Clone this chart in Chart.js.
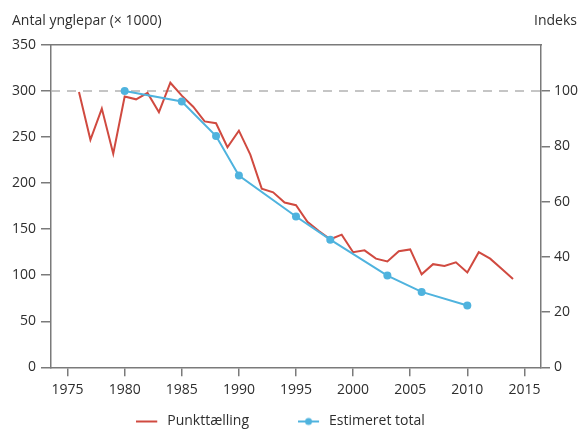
<!DOCTYPE html>
<html><head><meta charset="utf-8">
<script src="https://cdn.jsdelivr.net/npm/chart.js@4/dist/chart.umd.min.js"></script>
<style>html,body{margin:0;padding:0;background:#fff}#wrap{width:581px;height:429px;position:relative}</style>
</head><body><div id="wrap"><canvas id="c" width="581" height="429"></canvas></div>
<script>
// ---- data ----
const countYears = [1976,1977,1978,1979,1980,1981,1982,1983,1984,1985,1986,1987,1988,1989,1990,1991,1992,1993,1994,1995,1996,1997,1998,1999,2000,2001,2002,2003,2004,2005,2006,2007,2008,2009,2010,2011,2012,2013,2014];
const countValues = [299,247,281,232,294,291,298,277,309,295,283,267,265,239,257,231,194,190,179,176,158,148,139,144,125,127,118,115,126,128,101,112,110,114,103,125,118,107,96];
const estimateYears = [1980,1985,1988,1990,1995,1998,2003,2006,2010];
const estimateIndex = [100,96.2,83.7,69.4,54.6,46.2,33.2,27.3,22.4];
const referenceLevel = 300;   // = index 100
const xTickYears = [1975,1980,1985,1990,1995,2000,2005,2010,2015];
const leftTicks = [0,50,100,150,200,250,300,350];
const rightTicks = [0,20,40,60,80,100];
const seriesNames = ['Punkttælling','Estimeret total'];
const titleLeft = 'Antal ynglepar (× 1000)';
const titleRight = 'Indeks';

// ---- styling ----
const RED = '#d04a40', BLUE = '#4fb3de', AXIS = '#7a7a7a', TXT = '#2e2e2e';
const FONT = {family: "'Open Sans', sans-serif", size: 14};
const X_MIN = 1973.55, X_MAX = 2016.45;
const LEFT_MAX = 350;
const RIGHT_MAX = LEFT_MAX * 100 / referenceLevel;
const LEGEND_GAP = 49;

function swatch(color, dot) {
  const c = document.createElement('canvas');
  c.width = 24; c.height = 10;
  const g = c.getContext('2d');
  g.strokeStyle = color; g.lineWidth = 2;
  g.beginPath(); g.moveTo(0, 5); g.lineTo(21, 5); g.stroke();
  if (dot) { g.fillStyle = color; g.beginPath(); g.arc(10.5, 5, 3.5, 0, Math.PI * 2); g.fill(); }
  return c;
}
const swatches = [swatch(RED, false), swatch(BLUE, true)];

const titles = {
  id: 'titles',
  afterLayout(chart) {
    const lg = chart.legend;
    if (lg) { lg.top = 421.5 - 7 - LEGEND_GAP; lg.left = 0; lg.right = 561; lg.width = 561; }
  },
  afterDraw(chart) {
    const ctx = chart.ctx;
    ctx.save();
    ctx.font = "14px 'Open Sans', sans-serif";
    ctx.fillStyle = TXT;
    ctx.textBaseline = 'middle';
    ctx.textAlign = 'left';
    ctx.fillText(titleLeft, 12, 21.5);
    ctx.textAlign = 'right';
    ctx.fillText(titleRight, 577, 21.5);
    ctx.restore();
  }
};

new Chart(document.getElementById('c'), {
  type: 'line',
  data: {
    datasets: [
      {
        label: seriesNames[0],
        data: countYears.map((y, i) => ({x: y, y: countValues[i]})),
        borderColor: RED, backgroundColor: RED, borderWidth: 2,
        pointRadius: 0, tension: 0, xAxisID: 'x', yAxisID: 'y', order: 2
      },
      {
        label: seriesNames[1],
        data: estimateYears.map((y, i) => ({x: y, y: estimateIndex[i]})),
        borderColor: BLUE, backgroundColor: BLUE, borderWidth: 2,
        pointRadius: 4, pointBorderWidth: 0, pointBackgroundColor: BLUE,
        tension: 0, xAxisID: 'x', yAxisID: 'yIdx', order: 1
      },
      {
        label: 'ref',
        data: [{x: X_MIN, y: referenceLevel}, {x: X_MAX, y: referenceLevel}],
        borderColor: '#b3b3b3', borderWidth: 1.5, borderDash: [9, 7],
        pointRadius: 0, xAxisID: 'x', yAxisID: 'y', order: 3
      }
    ]
  },
  options: {
    responsive: false, animation: false, devicePixelRatio: 1,
    layout: {padding: {top: 45, left: 0, right: 0, bottom: 0}, autoPadding: false},
    plugins: {
      tooltip: {enabled: false},
      legend: {
        position: 'bottom',
        maxHeight: 21.7,
        labels: {
          usePointStyle: true, pointStyleWidth: 24, padding: LEGEND_GAP,
          color: TXT, font: FONT,
          generateLabels: () => seriesNames.map((n, i) => ({
            text: n, pointStyle: swatches[i], fillStyle: 'transparent',
            strokeStyle: 'transparent', lineWidth: 0, fontColor: TXT, datasetIndex: i, hidden: false
          }))
        }
      }
    },
    scales: {
      x: {
        type: 'linear', position: 'bottom', min: X_MIN, max: X_MAX,
        afterBuildTicks: s => { s.ticks = xTickYears.map(v => ({value: v})); },
        afterFit: s => { s.height = 40; },
        ticks: {color: TXT, font: FONT, padding: 5, maxRotation: 0, autoSkip: false, callback: v => String(v)},
        grid: {drawOnChartArea: false, drawTicks: true, tickLength: 9, color: AXIS, lineWidth: 1.5},
        border: {display: true, color: AXIS, width: 1.5}
      },
      xTop: {
        type: 'linear', position: 'top', min: X_MIN, max: X_MAX,
        afterFit: s => { s.height = 0; },
        ticks: {display: false},
        grid: {drawOnChartArea: false, drawTicks: false},
        border: {display: true, color: AXIS, width: 1.5}
      },
      y: {
        type: 'linear', position: 'left', min: 0, max: LEFT_MAX,
        afterBuildTicks: s => { s.ticks = leftTicks.map(v => ({value: v})); },
        afterFit: s => { s.width = 51; },
        ticks: {color: TXT, font: FONT, padding: 5},
        grid: {drawOnChartArea: false, drawTicks: true, tickLength: 10, color: AXIS, lineWidth: 1.5},
        border: {display: true, color: AXIS, width: 1.5}
      },
      yIdx: {
        type: 'linear', position: 'right', min: 0, max: RIGHT_MAX,
        afterBuildTicks: s => { s.ticks = rightTicks.map(v => ({value: v})); },
        afterFit: s => { s.width = 40; },
        ticks: {color: TXT, font: FONT, padding: 4},
        grid: {drawOnChartArea: false, drawTicks: true, tickLength: 9, color: AXIS, lineWidth: 1.5},
        border: {display: true, color: AXIS, width: 1.5}
      }
    }
  },
  plugins: [titles]
});
</script>
</body></html>
